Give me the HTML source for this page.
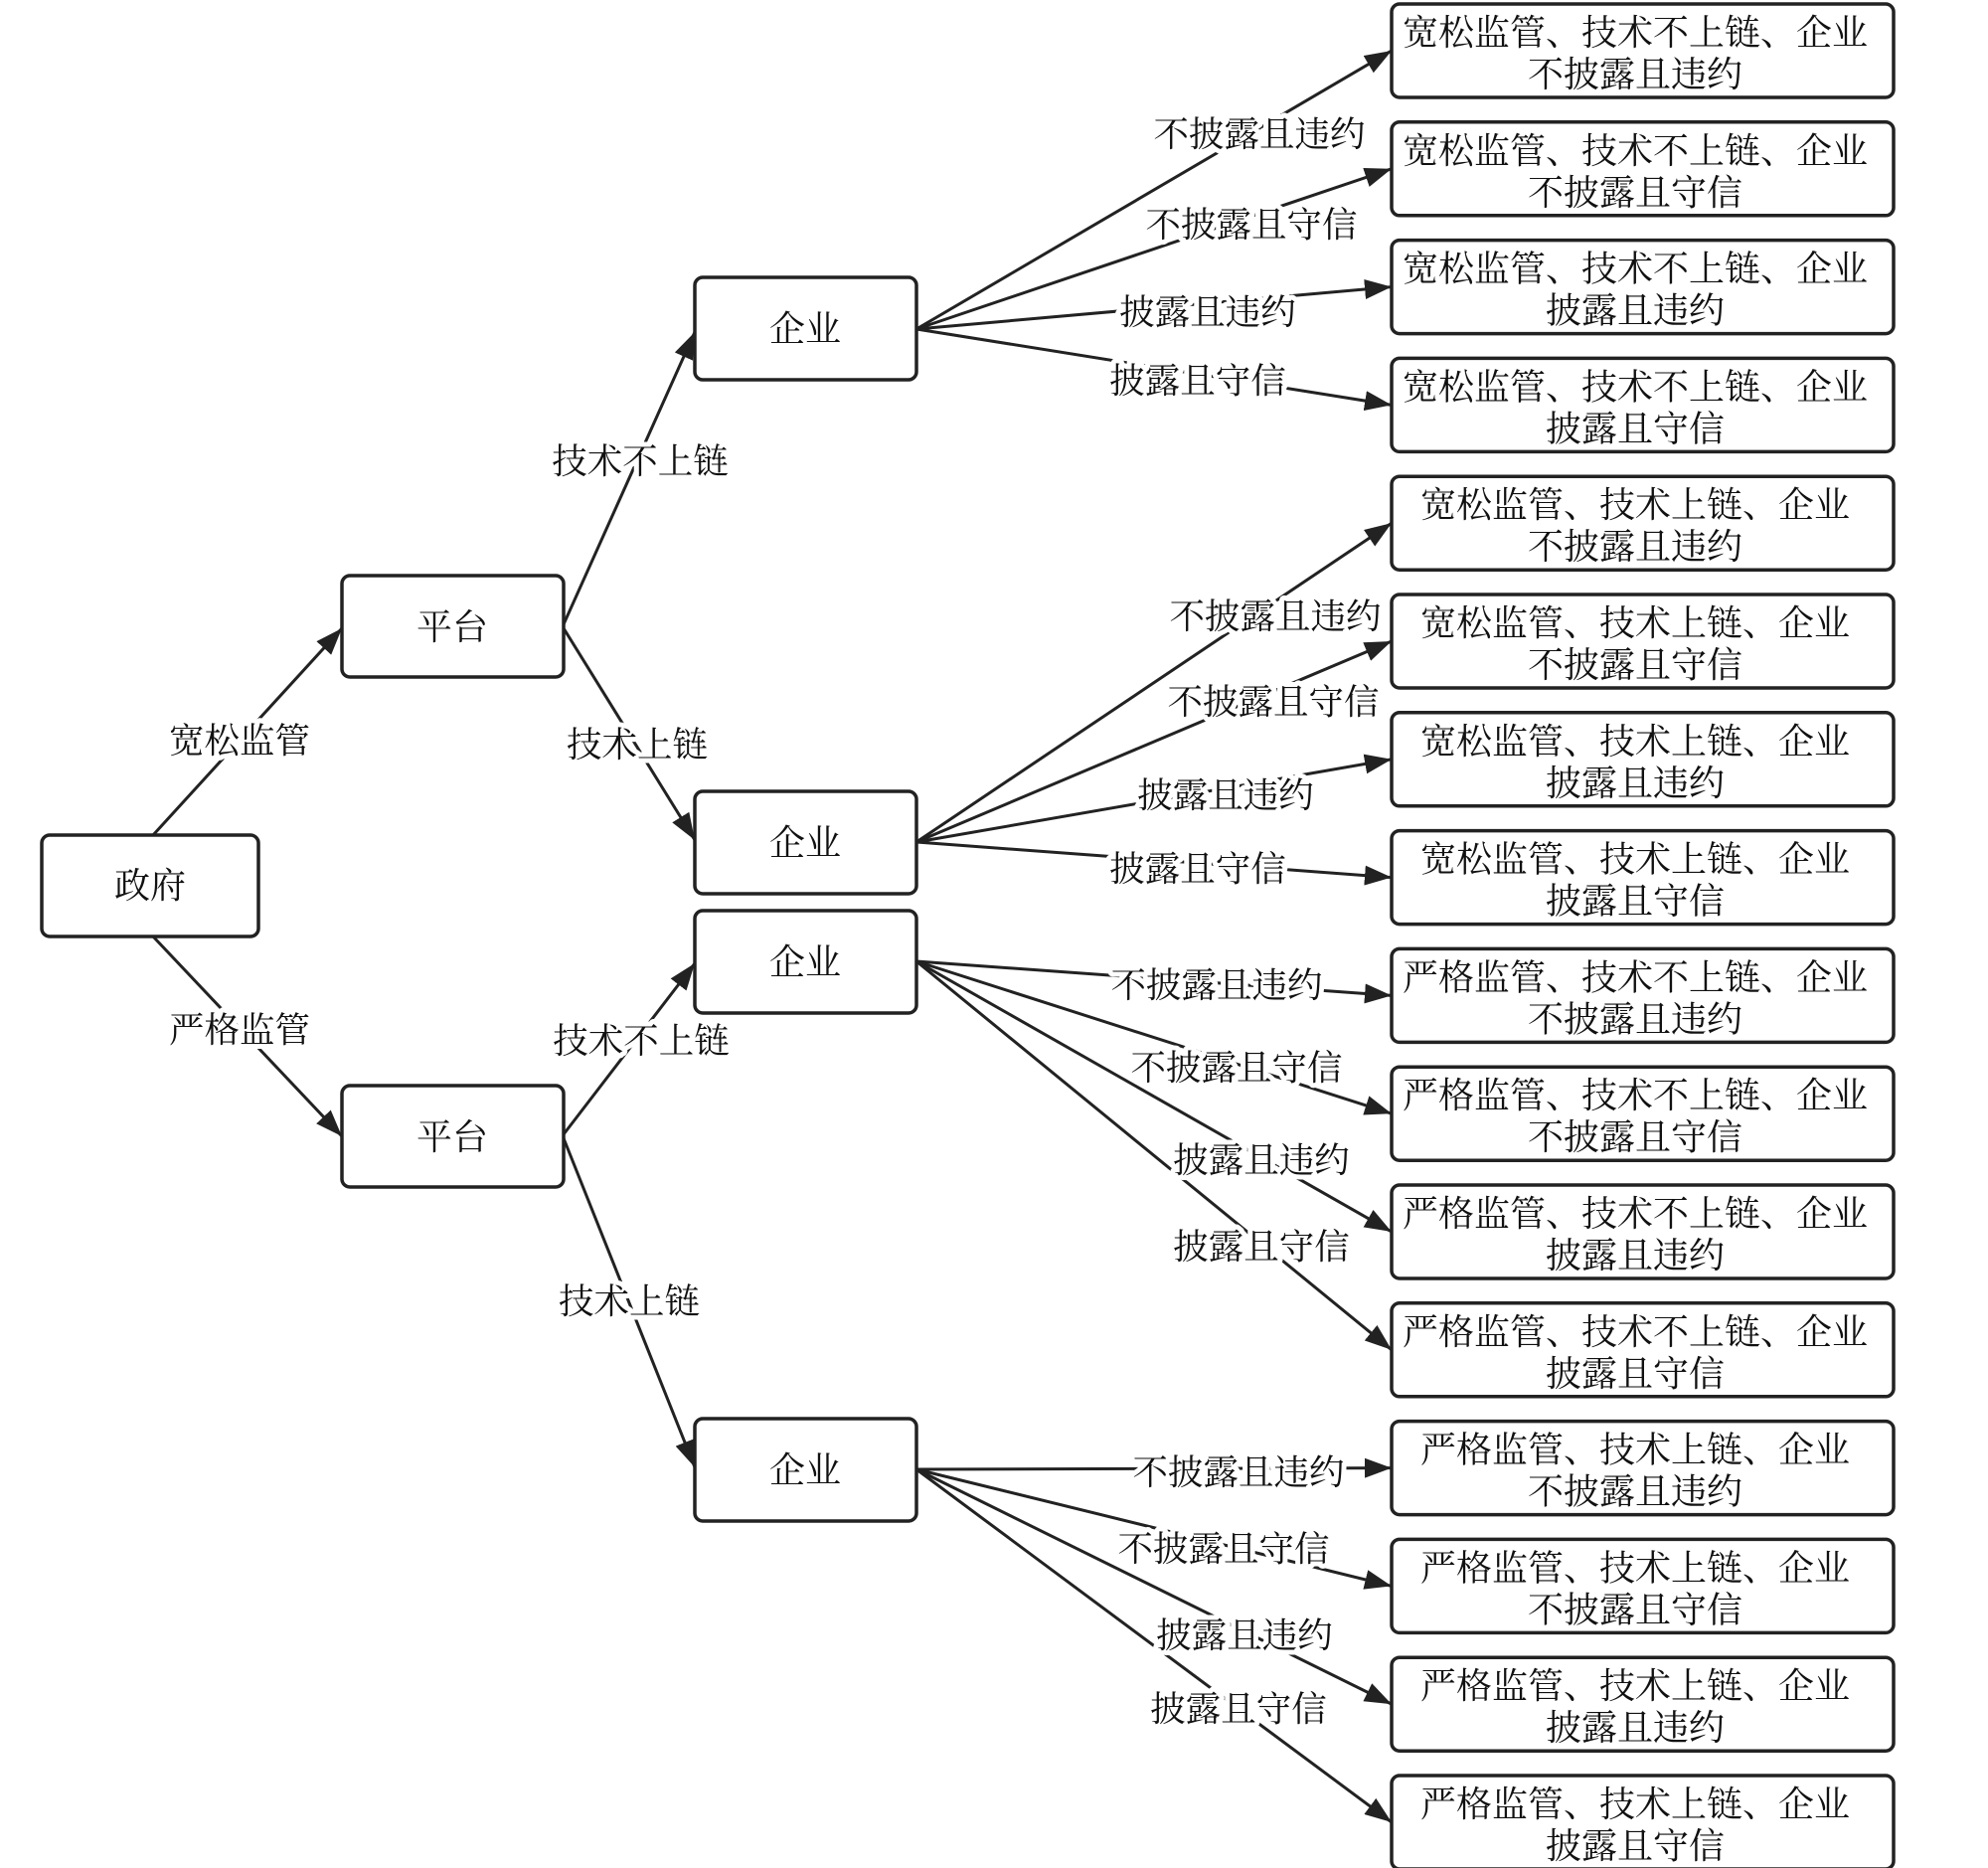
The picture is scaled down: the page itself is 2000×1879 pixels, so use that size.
<!DOCTYPE html>
<html><head><meta charset="utf-8"><style>
html,body{margin:0;padding:0;background:#fff}
svg{display:block}
text{font-family:"Liberation Serif","Noto Serif CJK SC","Noto Sans CJK SC",serif;fill:#111}
.lb{font-size:35.5px;stroke:#fff;stroke-width:10px;paint-order:stroke;stroke-linejoin:round}
.bx{font-size:36px}
</style></head><body>
<svg width="2000" height="1879" viewBox="0 0 2000 1879" xmlns="http://www.w3.org/2000/svg">
<defs><marker id="a" markerUnits="userSpaceOnUse" markerWidth="30" markerHeight="20" refX="27" refY="10" orient="auto"><path d="M0,0 L27,10 L0,20 z" fill="#222"/></marker></defs>
<g stroke="#222" stroke-width="3" fill="none" marker-end="url(#a)">
<line x1="154" y1="840" x2="344" y2="632"/>
<line x1="154" y1="942" x2="344" y2="1143"/>
<line x1="567" y1="628" x2="699" y2="334"/>
<line x1="567" y1="632" x2="699" y2="845"/>
<line x1="567" y1="1141" x2="699" y2="969"/>
<line x1="567" y1="1145" x2="699" y2="1476"/>
</g>
<g stroke="#222" stroke-width="3" fill="none" marker-end="url(#a)" id="edges"></g>
<g fill="#fff" stroke="#222" stroke-width="3.5">
<rect x="42" y="840" width="218" height="102" rx="8"/>
<rect x="344" y="579" width="223" height="102" rx="8"/>
<rect x="344" y="1092" width="223" height="102" rx="8"/>
<rect x="699" y="279" width="223" height="103" rx="8"/>
<rect x="699" y="796" width="223" height="103" rx="8"/>
<rect x="699" y="916" width="223" height="103" rx="8"/>
<rect x="699" y="1427" width="223" height="103" rx="8"/>
</g>
<g class="bx" text-anchor="middle">
<text x="151" y="903">政府</text>
<text x="455" y="643">平台</text>
<text x="455" y="1156">平台</text>
<text x="810" y="343">企业</text>
<text x="810" y="860">企业</text>
<text x="810" y="980">企业</text>
<text x="810" y="1491">企业</text>
</g>
<g id="right"></g>
<g class="lb" text-anchor="middle">
<text x="241" y="757">宽松监管</text>
<text x="241" y="1048">严格监管</text>
<text x="644" y="476">技术不上链</text>
<text x="641" y="761">技术上链</text>
<text x="645" y="1059">技术不上链</text>
<text x="633" y="1321">技术上链</text>
</g>
<g class="lb" text-anchor="middle" id="el"></g>
<script>
var ns="http://www.w3.org/2000/svg";
var tops=[],H=94;for(var i=0;i<16;i++)tops.push(4+i*118.8);
var srcY=[331,847,967,1478];
var outs=["宽松监管、技术不上链、企业","宽松监管、技术上链、企业","严格监管、技术不上链、企业","严格监管、技术上链、企业"];
var acts=["不披露且违约","不披露且守信","披露且违约","披露且守信"];
var lp=[[1267,135],[1259,226],[1215,314],[1205,383],[1283,620],[1281,706],[1233,800],[1205,874],[1224,991],[1244,1074],[1269,1167],[1269,1254],[1246,1481],[1231,1558],[1252,1645],[1246,1719]];
var E=document.getElementById("edges"),R=document.getElementById("right"),L=document.getElementById("el");
for(var g=0;g<4;g++)for(var k=0;k<4;k++){var i=g*4+k,t=tops[i];
var l=document.createElementNS(ns,"line");l.setAttribute("x1",922);l.setAttribute("y1",srcY[g]);l.setAttribute("x2",1400);l.setAttribute("y2",t+H/2);E.appendChild(l);
var r=document.createElementNS(ns,"rect");r.setAttribute("x",1400);r.setAttribute("y",t);r.setAttribute("width",505);r.setAttribute("height",H);r.setAttribute("rx",8);r.setAttribute("fill","#fff");r.setAttribute("stroke","#222");r.setAttribute("stroke-width","3.5");R.appendChild(r);
var a=document.createElementNS(ns,"text");a.setAttribute("class","bx");a.setAttribute("x",1645);a.setAttribute("y",t+41);a.setAttribute("text-anchor","middle");a.textContent=outs[g];R.appendChild(a);
var b=document.createElementNS(ns,"text");b.setAttribute("class","bx");b.setAttribute("x",1645);b.setAttribute("y",t+83);b.setAttribute("text-anchor","middle");b.textContent=acts[k];R.appendChild(b);
var c=document.createElementNS(ns,"text");c.setAttribute("x",lp[i][0]);c.setAttribute("y",lp[i][1]+12);c.textContent=acts[k];L.appendChild(c);}
</script>
</svg>
</body></html>
